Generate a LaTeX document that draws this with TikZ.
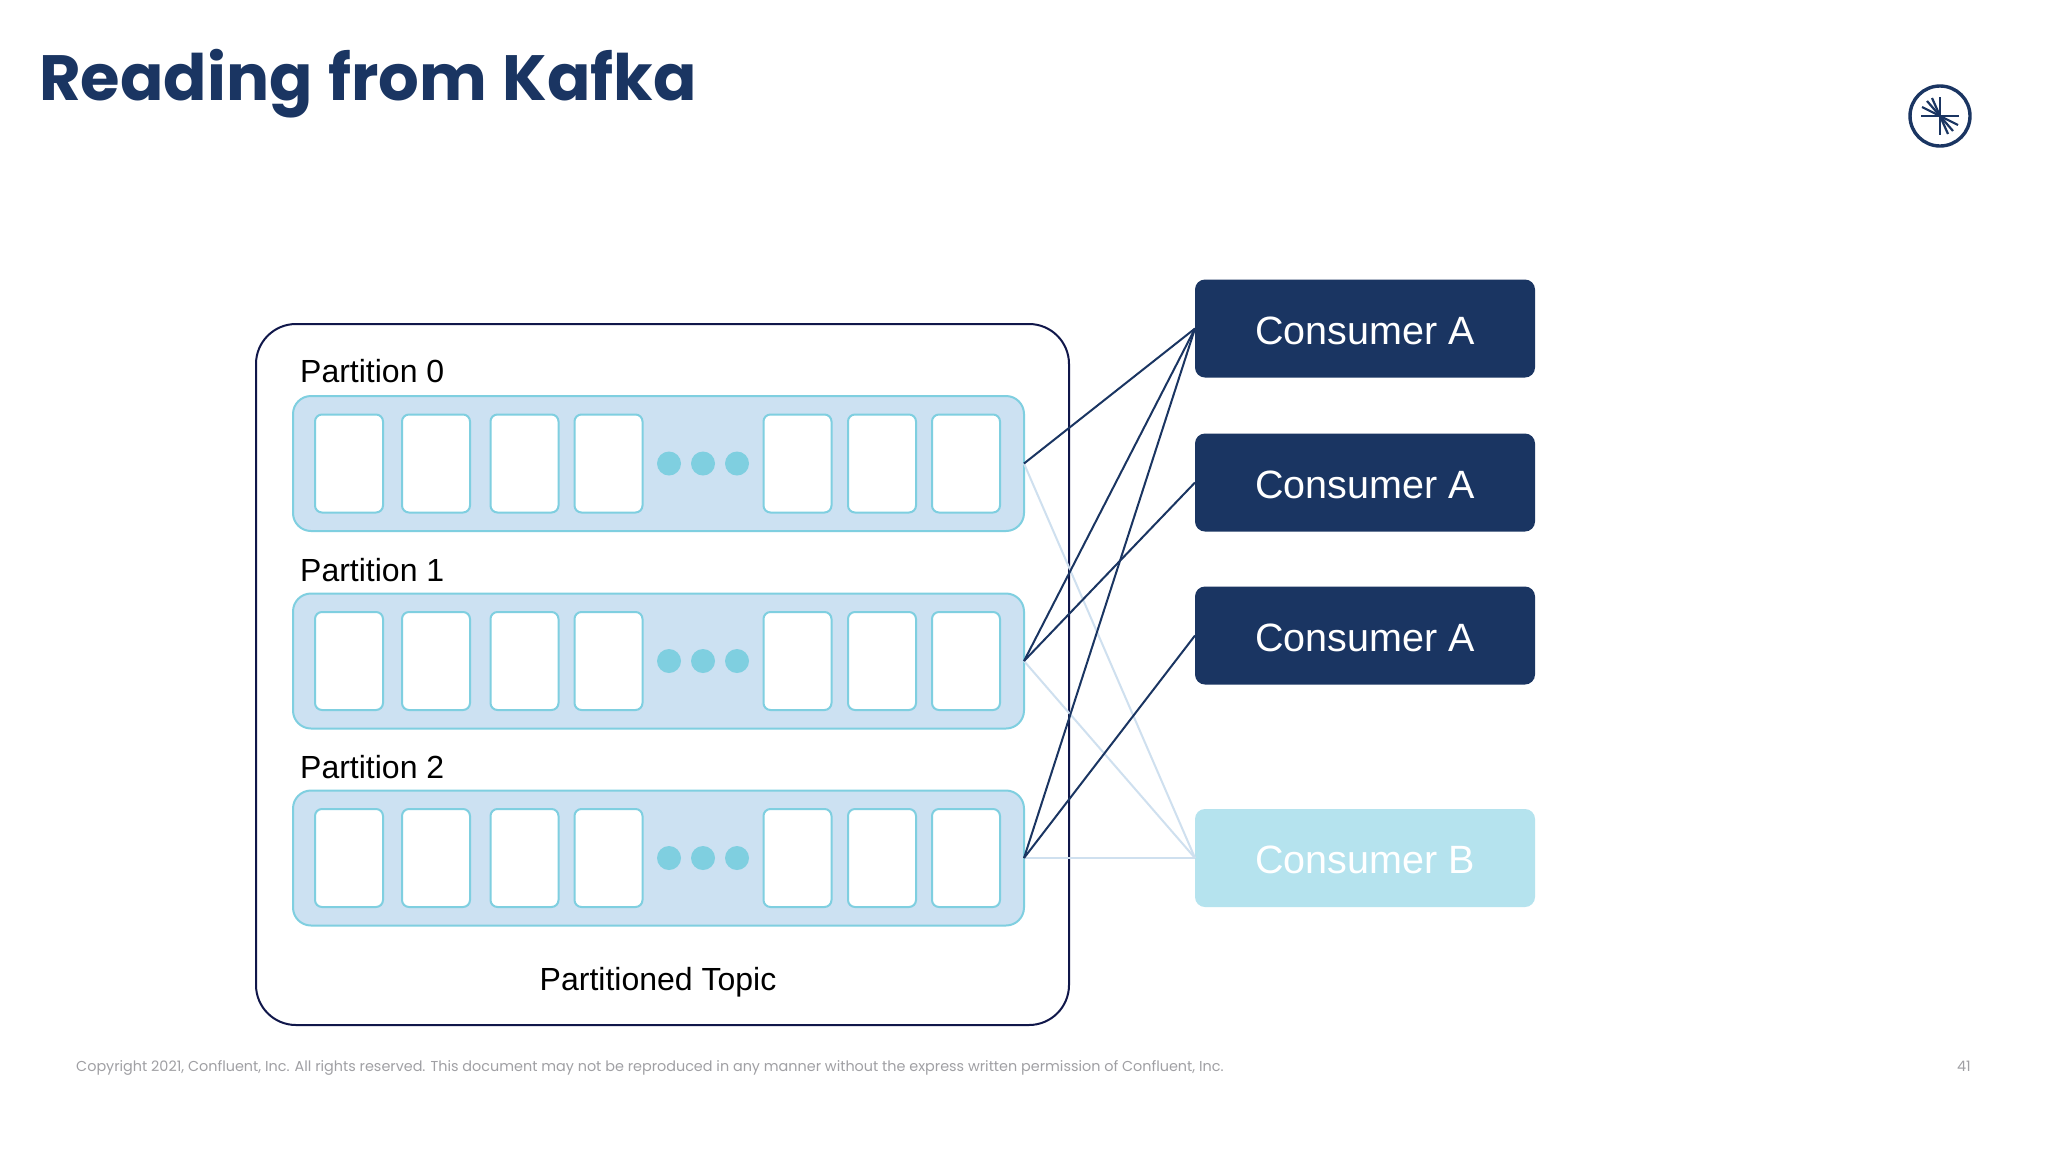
\documentclass[tikz,border=0pt]{standalone}
\usepackage{fontspec}
\setmainfont{Liberation Sans}
\newfontfamily\titlefont{Poppins}
\newfontfamily\footfont{Poppins}
\newfontfamily\labelfont{Liberation Sans}
\definecolor{navy}{HTML}{1A3562}
\definecolor{inkline}{HTML}{10174A}
\definecolor{aqua}{HTML}{7FCFE0}
\definecolor{band}{HTML}{CCE1F2}
\definecolor{paleblue}{HTML}{B5E3EE}
\definecolor{paleline}{HTML}{CFE0EF}
\definecolor{footgray}{HTML}{A0A0A4}
\tikzset{
  topic/.style={draw=inkline,line width=2pt,fill=white,rounded corners=40pt,minimum width=813pt,minimum height=701pt,outer sep=0pt},
  partband/.style={draw=aqua,line width=2pt,fill=band,rounded corners=18pt,minimum width=731pt,minimum height=135pt,outer sep=0pt},
  cell/.style={draw=aqua,line width=2pt,fill=white,rounded corners=7pt,minimum width=68pt,minimum height=98pt,outer sep=0pt},
  dot/.style={circle,fill=aqua,minimum size=24pt,inner sep=0pt,outer sep=0pt},
  consumer/.style={fill=navy,text=white,rounded corners=10pt,minimum width=340pt,minimum height=98pt,font=\fontsize{39.5}{48}\selectfont,text height=31pt,text depth=0pt,outer sep=0pt},
  consumerb/.style={consumer,fill=paleblue},
  partlabel/.style={font=\fontsize{32}{38}\selectfont\labelfont,text=black,anchor=base west,inner sep=0pt},
  darkwire/.style={draw=navy,line width=2pt},
  palewire/.style={draw=paleline,line width=2pt},
  spoke/.style={draw=navy,line width=2.2pt}
}
\begin{document}
\begin{tikzpicture}[x=1pt,y=-1pt]
\useasboundingbox (0,0) rectangle (2048,1152);
\fill[white] (0,0) rectangle (2048,1152);
\node[anchor=base west,inner sep=0pt,text=navy,font=\fontsize{64}{70}\selectfont\titlefont\bfseries] (title) at (39,100) {Reading\hspace{2pt} from\hspace{2pt} Kafka};
% logo
\node[circle,draw=navy,line width=3.4pt,minimum size=60pt,inner sep=0pt] (logo) at (1940,116) {};
\draw[spoke] (1921,116) -- (1959,116);
\draw[spoke] (1940,97) -- (1940,135);
\draw[spoke] (1940,116) -- (1922,107);
\draw[spoke] (1940,116) -- (1927,101);
\draw[spoke] (1940,116) -- (1932,98);
\draw[spoke] (1940,116) -- (1958,125);
\draw[spoke] (1940,116) -- (1953,131);
\draw[spoke] (1940,116) -- (1948,134);
% topic box
\node[topic] (topic) at (662.5,674.5) {};
\node[anchor=center,inner sep=0pt,font=\fontsize{32}{38}\selectfont\labelfont] (topiclabel) at (658,982.5) {Partitioned Topic};
\foreach \r/\y/\ly in {0/463.5/382,1/661/581,2/858/778}{
  \node[partband] (p\r) at (658.5,\y) {};
  \node[partlabel] (lab\r) at (300,\ly) {Partition \r};
  \foreach \c/\x in {1/349,2/436,3/524.5,4/608.5,5/797.5,6/882,7/966}{
    \node[cell] (c\r\c) at (\x,\y) {};
  }
  \foreach \d/\x in {1/669,2/703,3/737}{
    \node[dot] (d\r\d) at (\x,\y) {};
  }
}
% consumers
\node[consumer] (ca1) at (1365,328.5) {Consumer A};
\node[consumer] (ca2) at (1365,482.5) {Consumer A};
\node[consumer] (ca3) at (1365,635.5) {Consumer A};
\node[consumerb] (cb) at (1365,858) {Consumer B};
% wires
\draw[palewire] (p0.east) -- (cb.west);
\draw[palewire] (p1.east) -- (cb.west);
\draw[palewire] (p2.east) -- (cb.west);
\draw[darkwire] (p0.east) -- (ca1.west);
\draw[darkwire] (p1.east) -- (ca1.west);
\draw[darkwire] (p1.east) -- (ca2.west);
\draw[darkwire] (p2.east) -- (ca1.west);
\draw[darkwire] (p2.east) -- (ca3.west);
% footer
\node[anchor=base west,inner sep=0pt,text=footgray,font=\fontsize{14.38}{18}\selectfont\footfont] (copy) at (76,1071) {Copyright 2021, Confluent, Inc. All rights reserved. This document may not be reproduced in any manner without the express written permission of Confluent, Inc.};
\node[anchor=base east,inner sep=0pt,text=footgray,font=\fontsize{14.38}{18}\selectfont\footfont] (pageno) at (1971,1071) {41};
\end{tikzpicture}
\end{document}
